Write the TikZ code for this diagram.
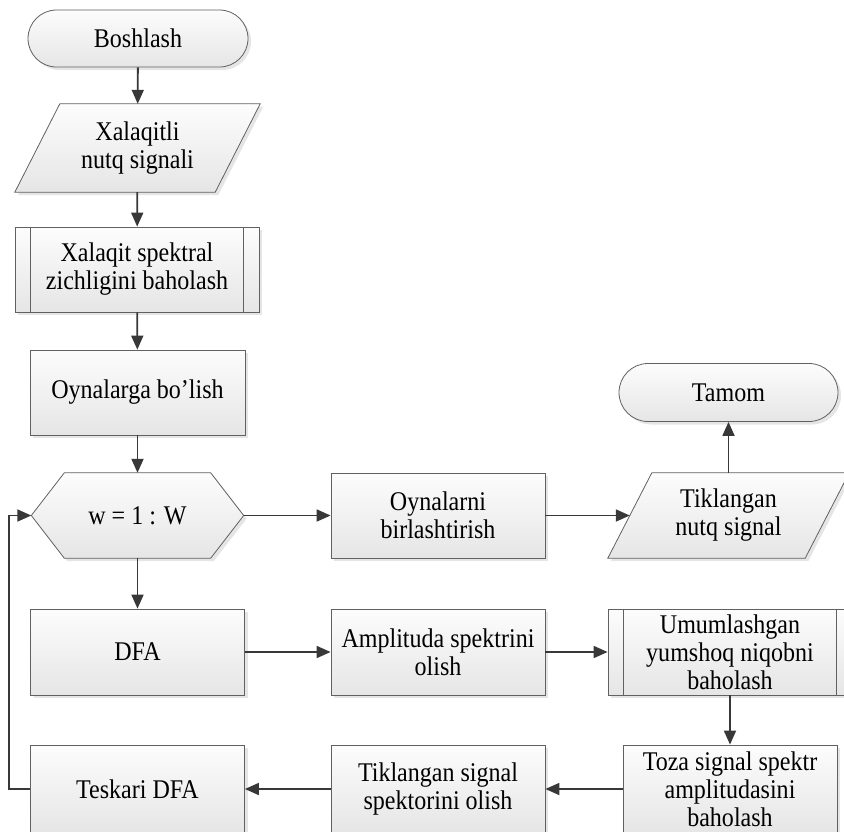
\documentclass[tikz,border=0pt]{standalone}
\usepackage{fontspec}
\setmainfont{Liberation Serif}[FakeStretch=0.89]
\usetikzlibrary{shapes.misc,arrows.meta,shadows,backgrounds}

\tikzset{
  outline/.style={draw=black!62, line width=0.8pt},
  base/.style={outline, top color=black!1, bottom color=black!10,
    drop shadow={shadow xshift=3pt, shadow yshift=-3pt, fill=black!20}},
  txt/.style={font=\fontsize{27}{28}\selectfont, align=center, text=black, inner sep=0pt},
  box/.style={base, txt, rectangle, minimum width=214pt, minimum height=86pt},
  subbox/.style={box, minimum width=244pt},
  term/.style={base, txt, rounded rectangle, minimum height=57pt, minimum width=220pt},
  holder/.style={txt, rectangle, minimum height=85pt},
  flow/.style={draw=black!78, line width=1.8pt, -{Triangle[length=14pt,width=12pt]}},
}

\begin{document}
\begin{tikzpicture}[x=1pt,y=-1pt]
\useasboundingbox (0,0) rectangle (844,831);

% ---- left column ----
\node[term] (start) at (138,38.5) {Boshlash};
\node[holder, minimum width=200pt, minimum height=88pt] (in1) at (137.5,148) {Xalaqitli\\nutq signali};
\node[subbox, minimum height=85pt] (sub1) at (137,269.5) {Xalaqit spektral\\zichligini baholash};
\node[box, minimum width=215pt, minimum height=85pt] (split) at (137.5,392.5) {Oynalarga bo’lish};
\node[holder, minimum width=212pt] (loop) at (137.5,515.5) {w = 1 : W};
\node[box] (dfa) at (137.5,652) {DFA};
\node[box, minimum height=88pt] (idfa) at (137.5,789) {Teskari DFA};

% ---- middle column ----
\node[box, minimum height=85pt] (merge) at (438,515.5) {Oynalarni\\birlashtirish};
\node[box] (amp) at (438,652) {Amplituda spektrini\\olish};
\node[box, minimum height=88pt] (spec) at (438,789) {Tiklangan signal\\spektorini olish};

% ---- right column ----
\node[term, minimum width=219pt, minimum height=58pt] (stop) at (728.5,392.5) {Tamom};
\node[holder, minimum width=197pt] (out1) at (728.5,515.5) {Tiklangan\\nutq signal};
\node[subbox] (mask) at (730,652) {Umumlashgan\\yumshoq niqobni\\baholash};
\node[box, minimum height=88pt] (clean) at (730,789) {Toza signal spektr\\amplitudasini\\baholash};

% outlines of the input/output parallelograms and the loop hexagon
\begin{scope}[on background layer]
  \path[base] ([xshift=22.5pt]in1.north west) -- ([xshift=22.5pt]in1.north east)
    -- ([xshift=-22.5pt]in1.south east) -- ([xshift=-22.5pt]in1.south west) -- cycle;
  \path[base] ([xshift=22pt]out1.north west) -- ([xshift=22pt]out1.north east)
    -- ([xshift=-22pt]out1.south east) -- ([xshift=-22pt]out1.south west) -- cycle;
  \path[base] (loop.west) -- ([xshift=33pt]loop.north west) -- ([xshift=-33pt]loop.north east)
    -- (loop.east) -- ([xshift=-33pt]loop.south east) -- ([xshift=33pt]loop.south west) -- cycle;
\end{scope}

% side bars of the predefined-process boxes
\foreach \n in {sub1,mask}{
  \draw[outline] ([xshift=16pt]\n.north west) -- ([xshift=16pt]\n.south west);
  \draw[outline] ([xshift=-16pt]\n.north east) -- ([xshift=-16pt]\n.south east);
}

% ---- connectors ----
\draw[flow] (start) -- (in1);
\draw[flow] (in1) -- (sub1);
\draw[flow] (sub1) -- (split);
\draw[flow] (split) -- (loop);
\draw[flow] (loop) -- (dfa);
\draw[flow] (loop.east) -- (merge);
\draw[flow] (merge) -- (out1);
\draw[flow] (out1) -- (stop);
\draw[flow] (dfa) -- (amp);
\draw[flow] (amp) -- (mask);
\draw[flow] (mask) -- (clean);
\draw[flow] (clean) -- (spec);
\draw[flow] (spec) -- (idfa);
\draw[flow] (idfa.west) -- ++(-21,0) |- (loop.west);
\end{tikzpicture}
\end{document}
